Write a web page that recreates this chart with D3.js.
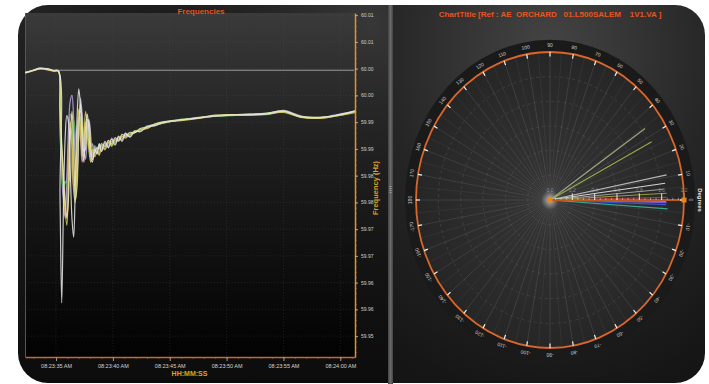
<!DOCTYPE html>
<html><head><meta charset="utf-8">
<script src="https://cdn.jsdelivr.net/npm/d3@7"></script>
<style>
html,body{margin:0;padding:0;background:#fff;}
svg{display:block;font-family:"Liberation Sans",Arial,sans-serif;}
</style></head><body>
<svg id="c" width="709" height="384"></svg>
<script>
// ---- Frequency traces (Hz), sampled at sampleSeconds (seconds after 08:23:00) ----
const sampleSeconds = [32.3, 33.0, 33.6, 34.2, 34.8, 35.2,
  35.35, 35.5, 35.65, 35.8, 35.95, 36.1, 36.25, 36.4, 36.55, 36.7, 36.85, 37.0, 37.15, 37.3, 37.45, 37.6, 37.75, 37.9, 38.05, 38.2,
  38.4, 38.6, 38.8, 39.0, 39.3, 39.6, 39.9, 40.2, 40.5, 40.8, 41.1, 41.5, 41.9, 42.4, 43.0, 43.7,
  44.5, 46.0, 47.5, 49.0, 50.5, 52.0, 53.5, 55.0, 56.5, 58.0, 59.5, 61.3];

const freqGrey = [59.9993, 59.9997, 60.0000, 59.9999, 59.9996, 59.9996,
  59.989, 59.980, 59.975, 59.972, 59.977, 59.986, 59.9915, 59.990, 59.982, 59.977, 59.983, 59.991, 59.992, 59.987, 59.9835, 59.986, 59.9905, 59.989, 59.986, 59.984,
  59.9852, 59.9844, 59.9856, 59.9846, 59.9858, 59.9857, 59.9864, 59.9864, 59.9872, 59.9869, 59.9878, 59.9875, 59.9884, 59.9883, 59.9893, 59.9894,
  59.9899, 59.9904, 59.9908, 59.9912, 59.9913, 59.9914, 59.9916, 59.9920, 59.9911, 59.9908, 59.9912, 59.9920];
const freqPink = [59.9992, 59.9996, 60.0000, 59.9998, 59.9996, 59.9995,
  59.991, 59.983, 59.977, 59.9725, 59.973, 59.982, 59.989, 59.985, 59.978, 59.979, 59.987, 59.991, 59.987, 59.9825, 59.985, 59.990, 59.989, 59.9855, 59.984, 59.986,
  59.9842, 59.9850, 59.9841, 59.9856, 59.9848, 59.9861, 59.9858, 59.9865, 59.9866, 59.9872, 59.9872, 59.9877, 59.9881, 59.9885, 59.9889, 59.9895,
  59.9899, 59.9904, 59.9907, 59.9911, 59.9913, 59.9913, 59.9915, 59.9919, 59.9910, 59.9907, 59.9911, 59.9919];
const freqLavender = [59.9993, 59.9997, 60.0001, 59.9999, 59.9996, 59.9996,
  59.990, 59.982, 59.976, 59.9745, 59.980, 59.989, 59.994, 59.995, 59.9905, 59.983, 59.9805, 59.988, 59.9945, 59.9915, 59.986, 59.983, 59.987, 59.9905, 59.9875, 59.9835,
  59.9856, 59.9842, 59.9858, 59.9849, 59.9861, 59.9854, 59.9870, 59.9860, 59.9871, 59.9867, 59.9880, 59.9873, 59.9881, 59.9884, 59.9891, 59.9893,
  59.9900, 59.9904, 59.9909, 59.9911, 59.9914, 59.9915, 59.9916, 59.9922, 59.9912, 59.9908, 59.9913, 59.9921];
const freqGreen = [59.9992, 59.9997, 60.0000, 59.9999, 59.9996, 59.9995,
  59.988, 59.981, 59.9777, 59.979, 59.978, 59.980, 59.979, 59.985, 59.9905, 59.988, 59.9835, 59.987, 59.991, 59.9885, 59.985, 59.9865, 59.989, 59.9865, 59.9845, 59.9855,
  59.9848, 59.9854, 59.9844, 59.9858, 59.9851, 59.9864, 59.9854, 59.9866, 59.9867, 59.9871, 59.9876, 59.9876, 59.9884, 59.9885, 59.9892, 59.9895,
  59.9898, 59.9905, 59.9908, 59.9911, 59.9912, 59.9914, 59.9914, 59.9919, 59.9910, 59.9909, 59.9911, 59.9919];
const freqYellow = [59.9992, 59.9996, 60.0000, 59.9998, 59.9995, 59.9995,
  59.992, 59.985, 59.979, 59.9735, 59.9707, 59.979, 59.990, 59.987, 59.977, 59.975, 59.986, 59.9925, 59.989, 59.9835, 59.987, 59.992, 59.9895, 59.9845, 59.9825, 59.985,
  59.9835, 59.9846, 59.9838, 59.9854, 59.9850, 59.9862, 59.9856, 59.9868, 59.9864, 59.9874, 59.9870, 59.9878, 59.9880, 59.9886, 59.9888, 59.9896,
  59.9900, 59.9903, 59.9907, 59.9912, 59.9914, 59.9913, 59.9916, 59.9918, 59.9909, 59.9907, 59.9911, 59.9918];
const freqPaleYellow = [59.9993, 59.9997, 60.0001, 59.9999, 59.9996, 59.9996,
  59.993, 59.986, 59.980, 59.975, 59.972, 59.976, 59.987, 59.992, 59.986, 59.9755, 59.978, 59.989, 59.9935, 59.990, 59.9845, 59.985, 59.9905, 59.990, 59.985, 59.983,
  59.9844, 59.9852, 59.9850, 59.9860, 59.9854, 59.9866, 59.9860, 59.9871, 59.9866, 59.9877, 59.9874, 59.9881, 59.9880, 59.9888, 59.9891, 59.9897,
  59.9901, 59.9905, 59.9908, 59.9913, 59.9914, 59.9915, 59.9917, 59.9921, 59.9911, 59.9909, 59.9912, 59.9921];
const freqWhite = [59.9992, 59.9997, 60.0000, 60.0000, 59.9997, 59.9996,
  59.976, 59.9562, 59.974, 59.987, 59.9912, 59.990, 59.981, 59.972, 59.9685, 59.979, 59.991, 59.9962, 59.993, 59.986, 59.9825, 59.989, 59.9915, 59.988, 59.9835, 59.9825,
  59.9850, 59.9840, 59.9860, 59.9845, 59.9864, 59.9852, 59.9868, 59.9857, 59.9874, 59.9864, 59.9878, 59.9872, 59.9883, 59.9882, 59.9891, 59.9894,
  59.9899, 59.9904, 59.9908, 59.9911, 59.9913, 59.9914, 59.9915, 59.9920, 59.9910, 59.9908, 59.9912, 59.9920];

const freqSeries = [
  { values: freqGrey, color: "#9c9c9c" },
  { values: freqPink, color: "#e2a0ae" },
  { values: freqLavender, color: "#b4a6e6" },
  { values: freqGreen, color: "#4fb04a" },
  { values: freqYellow, color: "#d6c94a" },
  { values: freqPaleYellow, color: "#ebe4a6" },
  { values: freqWhite, color: "#e4e4e4" }
];

// flat trace that holds at nominal after the event
const flatSeconds = [35.2, 61.2];
const flatValues = [59.9997, 59.9997];

const freqTicks = [60.010, 60.005, 60.000, 59.995, 59.990, 59.985, 59.980, 59.975, 59.970, 59.965, 59.960, 59.955, 59.950];
const freqTickLabels = ["60.01", "60.01", "60.00", "60.00", "59.99", "59.99", "59.98", "59.98", "59.97", "59.97", "59.96", "59.96", "59.95"];

// ---- Phasors: angle (degrees) and magnitude ----
const phasorAngles = [34.3, 27.4, 11.0, 7.5, 4.9, 3.0, 1.2, -0.6, -1.2, -2.1, -3.9];
const phasorMagnitudes = [1.03, 1.026, 1.064, 1.04, 1.02, 1.046, 1.045, 1.04, 1.045, 1.04, 1.056];
const phasorColors = ["#aab08a", "#9cb84c", "#c4c4c4", "#e6e6e6", "#a4a4a4", "#a6a640", "#c03a3a", "#d070c0", "#8a5ce0", "#3c5ae0", "#3cb49c"];

const degreeTicks = [0, 10, 20, 30, 40, 50, 60, 70, 80, 90, 100, 110, 120, 130, 140, 150, 160, 170, 180,
  -170, -160, -150, -140, -130, -120, -110, -100, -90, -80, -70, -60, -50, -40, -30, -20, -10];
const radialTicks = [0.0, 0.2, 0.4, 0.6, 0.8, 1.0, 1.2];
const radialTickLabels = ["0.0", "0.2", "0.4", "0.6", "0.8", "1.0", "1.2"];

const svg = d3.select("#c");
const defs = svg.append("defs");

function lg(id, stops, x2, y2) {
  const g = defs.append("linearGradient").attr("id", id)
    .attr("x1", 0).attr("y1", 0).attr("x2", x2).attr("y2", y2);
  stops.forEach(s => g.append("stop").attr("offset", s[0]).attr("stop-color", s[1]));
}
function rg(id, gx, gy, gr, stops) {
  const g = defs.append("radialGradient").attr("id", id)
    .attr("cx", gx).attr("cy", gy).attr("r", gr);
  stops.forEach(s => g.append("stop").attr("offset", s[0]).attr("stop-color", s[1]).attr("stop-opacity", s[2] == null ? 1 : s[2]));
}
lg("leftPanel", [[0, "#222"], [0.5, "#1a1a1a"], [1, "#0c0c0c"]], 0, 1);
rg("leftHalo", "0.95", "0.05", "0.9", [[0, "#3a3a3a", 0.9], [1, "#000", 0]]);
lg("plotBg", [[0, "#3a3a3a"], [0.4, "#1e1e1e"], [1, "#020202"]], 0, 1);
rg("rightPanel", "0.5", "0.12", "0.95", [[0, "#444"], [0.55, "#262626"], [1, "#151515"]]);
rg("dial", "0.5", "0.5", "0.5", [[0, "#363636"], [1, "#262626"]]);
rg("centerGlow", "0.5", "0.5", "0.5", [[0, "#fff", 0.5], [1, "#fff", 0]]);

// ---- panels ----
const panelTop = 5, panelBottom = 383, rad = 30;
const leftShape = `M388,${panelTop} L${18 + rad},${panelTop} A${rad},${rad} 0 0 0 18,${panelTop + rad} L18,${panelBottom - rad} A${rad},${rad} 0 0 0 ${18 + rad},${panelBottom} L388,${panelBottom} Z`;
svg.append("path").attr("d", leftShape).attr("fill", "url(#leftPanel)");
svg.append("path").attr("d", leftShape).attr("fill", "url(#leftHalo)");
svg.append("path")
  .attr("d", `M393,${panelTop} L${705 - rad},${panelTop} A${rad},${rad} 0 0 1 705,${panelTop + rad} L705,${panelBottom - rad} A${rad},${rad} 0 0 1 ${705 - rad},${panelBottom} L393,${panelBottom} Z`)
  .attr("fill", "url(#rightPanel)");
// splitter
svg.append("rect").attr("x", 388).attr("y", panelTop).attr("width", 5).attr("height", 384 - panelTop).attr("fill", "#4a4a4a");
svg.append("rect").attr("x", 389.5).attr("y", panelTop).attr("width", 2).attr("height", 384 - panelTop).attr("fill", "#6a6a6a");
[186, 188, 190, 192].forEach(yy => svg.append("rect").attr("x", 389.5).attr("y", yy).attr("width", 2).attr("height", 1).attr("fill", "#999"));

// ---- Frequencies chart ----
const plot = { left: 25, right: 355, top: 13, bottom: 357 };
const t0 = new Date(2000, 0, 1, 8, 23, 0);
const toDate = s => new Date(t0.getTime() + s * 1000);
const x = d3.scaleTime().domain([toDate(32.27), toDate(61.29)]).range([plot.left, plot.right]);
const y = d3.scaleLinear().domain([59.9461, 60.0104]).range([plot.bottom, plot.top]);

svg.append("rect").attr("x", plot.left).attr("y", plot.top)
  .attr("width", plot.right - plot.left).attr("height", plot.bottom - plot.top)
  .attr("fill", "url(#plotBg)");
svg.append("line").attr("x1", plot.left + 0.5).attr("x2", plot.left + 0.5).attr("y1", plot.top).attr("y2", plot.bottom)
  .attr("stroke", "#555").attr("stroke-width", 1);

// grid
const grid = svg.append("g").attr("stroke", "#5a5a5a").attr("stroke-opacity", 0.45).attr("stroke-width", 0.6).attr("stroke-dasharray", "1,2");
grid.selectAll("line.h").data(freqTicks).join("line")
  .attr("x1", plot.left).attr("x2", plot.right).attr("y1", d => y(d)).attr("y2", d => y(d));
grid.selectAll("line.v").data(x.ticks(d3.timeSecond.every(5))).join("line")
  .attr("x1", d => x(d)).attr("x2", d => x(d)).attr("y1", plot.top).attr("y2", plot.bottom);

const clip = defs.append("clipPath").attr("id", "plotClip");
clip.append("rect").attr("x", plot.left).attr("y", plot.top).attr("width", plot.right - plot.left).attr("height", plot.bottom - plot.top);

const lines = svg.append("g").attr("clip-path", "url(#plotClip)").attr("fill", "none");
lines.append("path")
  .attr("d", d3.line().x((d, i) => x(toDate(flatSeconds[i]))).y(d => y(d))(flatValues))
  .attr("stroke", "#9a9a9a").attr("stroke-width", 1);
const freqLine = d3.line().curve(d3.curveCatmullRom.alpha(0.5))
  .x((d, i) => x(toDate(sampleSeconds[i]))).y(d => y(d));
freqSeries.forEach(s => {
  lines.append("path").attr("d", freqLine(s.values))
    .attr("stroke", s.color).attr("stroke-width", 1.2).attr("stroke-opacity", 0.88);
});

// x axis
const xAxis = svg.append("g").attr("transform", `translate(0,${plot.bottom})`)
  .call(d3.axisBottom(x).ticks(d3.timeSecond.every(5)).tickFormat(d3.timeFormat("%I:%M:%S %p")).tickSize(4).tickSizeOuter(0).tickPadding(3));
xAxis.select(".domain").attr("stroke", "#c06a38").attr("stroke-width", 1.5);
xAxis.selectAll(".tick line").attr("stroke", "#c8c8c8").attr("stroke-width", 0.8);
xAxis.selectAll("text").attr("fill", "#d4d4d4").attr("font-size", "5.5px").attr("font-family", "Liberation Sans, Arial");
const xMinor = svg.append("g").attr("transform", `translate(0,${plot.bottom})`)
  .call(d3.axisBottom(x).ticks(d3.timeSecond.every(1)).tickFormat("").tickSize(2).tickSizeOuter(0));
xMinor.select(".domain").remove();
xMinor.selectAll(".tick line").attr("stroke", "#b07050").attr("stroke-width", 0.6);

// y axis (right)
const yAxis = svg.append("g").attr("transform", `translate(${plot.right},0)`)
  .call(d3.axisRight(y).tickValues(freqTicks).tickFormat((d, i) => freqTickLabels[i]).tickSize(3).tickSizeOuter(0).tickPadding(3));
yAxis.select(".domain").attr("stroke", "#e0902c").attr("stroke-width", 1.5);
yAxis.selectAll(".tick line").attr("stroke", "#d8d8d8").attr("stroke-width", 0.7);
yAxis.selectAll("text").attr("fill", "#cfcfcf").attr("font-size", "5px").attr("font-family", "Liberation Sans, Arial");
const yMinor = svg.append("g").attr("transform", `translate(${plot.right},0)`)
  .call(d3.axisRight(y).ticks(60).tickFormat("").tickSize(1.8).tickSizeOuter(0));
yMinor.select(".domain").remove();
yMinor.selectAll(".tick line").attr("stroke", "#e0902c").attr("stroke-width", 0.5);

svg.append("text").attr("x", 201).attr("y", 14).attr("text-anchor", "middle")
  .attr("font-size", "8px").attr("font-weight", "bold").attr("fill", "#e8541e").text("Frequencies");
svg.append("text").attr("x", 189.5).attr("y", 376).attr("text-anchor", "middle")
  .attr("font-size", "7px").attr("font-weight", "bold").attr("fill", "#e8a010").text("HH:MM:SS");
svg.append("text").attr("transform", "translate(378,188) rotate(-90)").attr("text-anchor", "middle")
  .attr("font-size", "7.5px").attr("font-weight", "bold").attr("fill", "#dca020").text("Frequency (Hz)");

// ---- Phasor (polar) chart ----
const cx = 550, cy = 200, R = 134, k = 148 / 134;
const r = d3.scaleLinear().domain([0, 1.2]).range([0, R]);
const ang = deg => (90 - deg) * Math.PI / 180;   // d3.pointRadial: clockwise from 12 o'clock
const P = (deg, rr) => { const p = d3.pointRadial(ang(deg), rr); return [cx + p[0], cy + p[1] * k]; };

svg.append("text").attr("x", 550).attr("y", 16.5).attr("text-anchor", "middle").attr("xml:space", "preserve")
  .style("white-space", "pre")
  .attr("font-size", "8px").attr("font-weight", "bold").attr("fill", "#e8541e")
  .text("ChartTitle [Ref : AE  ORCHARD   01.L500SALEM    1V1.VA ]");

const dial = svg.append("g").attr("transform", `translate(${cx},${cy}) scale(1,${k})`);
dial.append("circle").attr("r", 145).attr("fill", "#1a1a1a");
dial.append("circle").attr("r", R).attr("fill", "url(#dial)");

// dashed rings
dial.selectAll("circle.ring").data(radialTicks.slice(1, -1)).join("circle")
  .attr("r", d => r(d)).attr("fill", "none").attr("stroke", "#6a6a6a").attr("stroke-opacity", 0.5)
  .attr("stroke-width", 0.6).attr("stroke-dasharray", "3,3").attr("vector-effect", "non-scaling-stroke");
// radial spokes every 5 degrees
dial.selectAll("line.spoke").data(d3.range(0, 360, 5)).join("line")
  .attr("x1", 0).attr("y1", 0)
  .attr("x2", d => d3.pointRadial(ang(d), R)[0]).attr("y2", d => d3.pointRadial(ang(d), R)[1])
  .attr("stroke", "#9a9a9a").attr("stroke-opacity", d => d % 10 === 0 ? 0.3 : 0.17)
  .attr("stroke-width", 0.6).attr("vector-effect", "non-scaling-stroke");
dial.append("circle").attr("r", 9).attr("fill", "url(#centerGlow)");

// phasors
phasorAngles.forEach((a, i) => {
  const p = d3.pointRadial(ang(a), r(phasorMagnitudes[i]));
  dial.append("line").attr("x1", 0).attr("y1", 0).attr("x2", p[0]).attr("y2", p[1])
    .attr("stroke", phasorColors[i]).attr("stroke-width", 1.2).attr("stroke-opacity", 0.9)
    .attr("vector-effect", "non-scaling-stroke");
});

// radial (magnitude) axis along 0 degrees
dial.append("line").attr("x1", 0).attr("y1", 0).attr("x2", R).attr("y2", 0)
  .attr("stroke", "#b85a22").attr("stroke-width", 1.8).attr("vector-effect", "non-scaling-stroke");
dial.selectAll("line.rminor").data(d3.range(0.05, 1.2, 0.05)).join("line")
  .attr("x1", d => r(d)).attr("x2", d => r(d)).attr("y1", 0).attr("y2", -2)
  .attr("stroke", "#ddd").attr("stroke-width", 0.5).attr("vector-effect", "non-scaling-stroke");
dial.selectAll("line.rmajor").data(radialTicks.slice(1)).join("line")
  .attr("x1", d => r(d)).attr("x2", d => r(d)).attr("y1", 0).attr("y2", -6)
  .attr("stroke", "#f0f0f0").attr("stroke-width", 0.9).attr("vector-effect", "non-scaling-stroke");

// orange outer ring with degree ticks
dial.append("circle").attr("r", R).attr("fill", "none").attr("stroke", "#d9662a").attr("stroke-width", 1.8)
  .attr("vector-effect", "non-scaling-stroke");
degreeTicks.forEach(dg => {
  const a = d3.pointRadial(ang(dg), R - 4), b = d3.pointRadial(ang(dg), R);
  dial.append("line").attr("x1", a[0]).attr("y1", a[1]).attr("x2", b[0]).attr("y2", b[1])
    .attr("stroke", "#f4f4f4").attr("stroke-width", 1.2).attr("vector-effect", "non-scaling-stroke");
});

// markers at centre and axis end
[[cx, cy], [cx + R, cy]].forEach(p => svg.append("rect").attr("x", p[0] - 2.5).attr("y", p[1] - 2.5)
  .attr("width", 5).attr("height", 5).attr("fill", "#e8861e"));

// degree labels
svg.append("g").selectAll("text").data(degreeTicks).join("text")
  .attr("transform", d => { const p = P(d, 140.5); return `translate(${p[0]},${p[1]}) rotate(${90 - d})`; })
  .attr("text-anchor", "middle").attr("dominant-baseline", "central")
  .attr("font-size", "5px").attr("fill", "#c8c8c8").text(d => d);

// magnitude labels
svg.append("g").selectAll("text").data(radialTicks).join("text")
  .attr("x", d => cx + r(d)).attr("y", cy - 8).attr("text-anchor", "middle")
  .attr("font-size", "5px").attr("fill", "#bbb").attr("fill-opacity", 0.6)
  .text((d, i) => radialTickLabels[i]);

svg.append("text").attr("transform", "translate(700,200) rotate(90)").attr("text-anchor", "middle")
  .attr("dominant-baseline", "central")
  .attr("font-size", "6px").attr("font-weight", "bold").attr("fill", "#e8e8e8").text("Degrees");
</script>
</body></html>
